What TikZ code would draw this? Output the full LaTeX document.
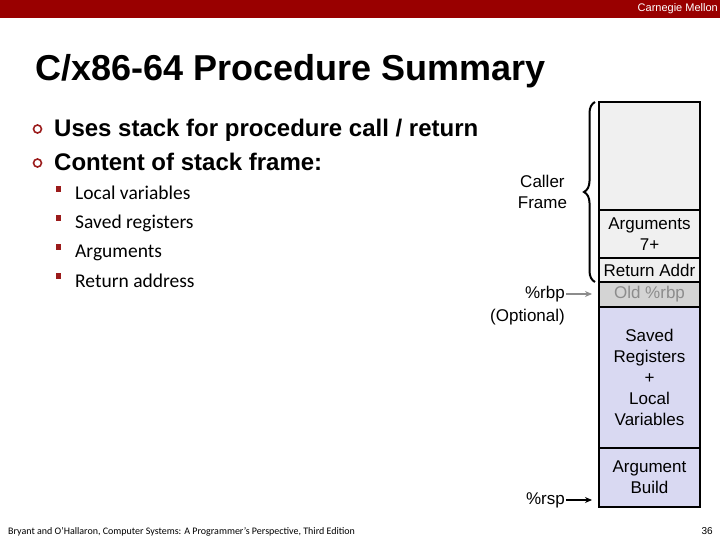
\documentclass[tikz,border=0pt]{standalone}
\usepackage{fontspec}
\setmainfont{Liberation Sans}
\newfontfamily\slidefont{Carlito}
\usetikzlibrary{arrows.meta, positioning, decorations.pathreplacing}

\definecolor{cmured}{HTML}{990000}
\definecolor{bulletred}{HTML}{9B1B1B}
\definecolor{callergray}{HTML}{F0F0F0}
\definecolor{rbpgray}{HTML}{D4D4D4}
\definecolor{rbptext}{HTML}{8C8C8C}
\definecolor{framelav}{HTML}{D9D9F2}

\begin{document}
\begin{tikzpicture}[x=1pt, y=-1pt,
    cell/.style={draw, rectangle, line width=2pt, minimum width=101pt, inner sep=1pt, outer sep=0pt, align=center, font=\fontsize{17}{21}\selectfont},
    lbl/.style={inner sep=1pt, align=center, font=\fontsize{17}{21}\selectfont},
    ptr/.style={-{Stealth[length=7pt, width=6pt]}, line width=1.8pt, shorten >=7pt},
    itemtext/.style={anchor=base west, inner sep=0pt, font=\bfseries\fontsize{24}{29}\selectfont},
    subtext/.style={anchor=base west, inner sep=0pt, font=\slidefont\fontsize{19.5}{23}\selectfont},
    bulletring/.style={draw=bulletred, circle, line width=1.6pt, minimum size=8pt, inner sep=0pt},
    bulletsq/.style={fill=bulletred, rectangle, minimum width=5pt, minimum height=6pt, inner sep=0pt}
]
    \useasboundingbox[fill=white] (0,0) rectangle (720,540);

    % Header bar
    \fill[cmured] (0,0) rectangle (720,18);
    \node[anchor=east, inner sep=0pt, text=white, font=\fontsize{11}{13}\selectfont] (cmu) at (718,9) {Carnegie Mellon};

    % Title
    \node[anchor=base west, inner sep=0pt, font=\bfseries\fontsize{36}{42}\selectfont] (title) at (35,81) {C/x86-64 Procedure Summary};

    % Bullets
    \node[bulletring] (b1) at (37.5,129) {};
    \node[itemtext] (uses) at (54,137) {Uses stack for procedure call / return};
    \node[bulletring] (b2) at (37.5,163) {};
    \node[itemtext] (content) at (54,171) {Content of stack frame:};

    \node[bulletsq] (s1) at (58,189) {};
    \node[subtext] (locals) at (75,200) {Local variables};
    \node[bulletsq] (s2) at (58,218) {};
    \node[subtext] (savedregs) at (75,229) {Saved registers};
    \node[bulletsq] (s3) at (58,247) {};
    \node[subtext] (arguments) at (75,258) {Arguments};
    \node[bulletsq] (s4) at (58,276) {};
    \node[subtext] (retaddress) at (75,287) {Return address};

    % Stack
    \node[cell, fill=callergray, minimum height=108pt] (caller) at (649.5,156) {};
    \node[cell, fill=callergray, minimum height=48pt, below=0pt of caller] (args) {Arguments\\7+};
    \node[cell, fill=callergray, minimum height=24pt, below=0pt of args] (retaddr) {Return Addr};
    \node[cell, fill=rbpgray, text=rbptext, minimum height=25pt, below=0pt of retaddr] (oldrbp) {Old \%rbp};
    \node[cell, fill=framelav, minimum height=141pt, below=0pt of oldrbp] (saved) {Saved\\Registers\\+\\Local\\Variables};
    \node[cell, fill=framelav, minimum height=59pt, below=0pt of saved] (argbuild) {Argument\\Build};

    % Caller frame brace
    \draw[line width=2pt, decorate, decoration={brace, amplitude=11pt}]
        ([xshift=-4pt]retaddr.south west) -- ([xshift=-4pt]caller.north west)
        node[lbl, midway, left=26pt] (callerlbl) {Caller\\Frame};

    % Pointers
    \node[lbl, anchor=east] (rbp) at (566,294) {\%rbp};
    \node[lbl, below=5pt of rbp.south east, anchor=north east] (optional) {(Optional)};
    \draw[ptr, draw=rbptext] (rbp.east) -- (rbp.east -| oldrbp.west);

    \node[lbl, anchor=east] (rsp) at (566,500) {\%rsp};
    \draw[ptr] (rsp.east) -- (rsp.east -| argbuild.west);

    % Footer
    \node[anchor=base west, inner sep=0pt, font=\slidefont\fontsize{10}{12}\selectfont] (credit) at (8,534) {Bryant and O’Hallaron, Computer Systems: A Programmer’s Perspective, Third Edition};
    \node[anchor=base east, inner sep=0pt, font=\fontsize{10}{12}\selectfont] (pagenum) at (713,534) {36};
\end{tikzpicture}
\end{document}
